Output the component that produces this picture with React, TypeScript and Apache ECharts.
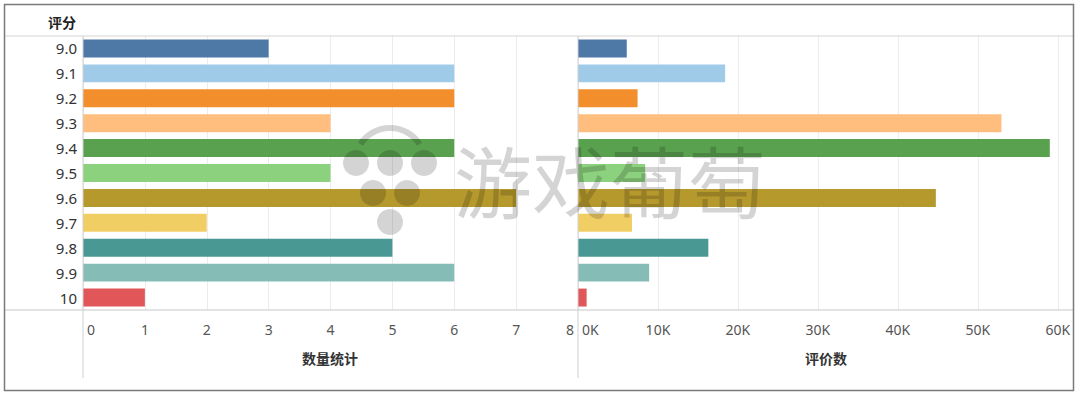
import React, { useEffect, useRef } from "react";
import * as echarts from "echarts";

const categories = ["9.0", "9.1", "9.2", "9.3", "9.4", "9.5", "9.6", "9.7", "9.8", "9.9", "10"];
const countValues = [3, 6, 6, 4, 6, 4, 7, 2, 5, 6, 1];
const reviewValues = [6100, 18400, 7450, 52950, 59000, 8400, 44750, 6750, 16300, 8900, 1080];
const colors = ["#4E79A7", "#A0CBE8", "#F28E2B", "#FFBE7D", "#59A14F", "#8CD17D", "#B6992D", "#F1CE63", "#499894", "#86BCB6", "#E15759"];
const leftTitle = "数量统计";
const rightTitle = "评价数";
const headerLabel = "评分";
const watermarkText = "游戏葡萄";

const FONT = "'Noto Sans', 'Noto Sans CJK SC', sans-serif";

export default function App() {
  const ref = useRef<HTMLDivElement>(null);
  useEffect(() => {
    document.body.style.margin = "0";
    if (!ref.current) return;
    const chart = echarts.init(ref.current, null, { renderer: "svg" });
    const wm = "rgba(0,0,0,0.17)";
    const dataFor = (vals: number[]) =>
      vals.map((v, i) => ({ value: v, itemStyle: { color: colors[i] } }));
    const axisLabelBase = { color: "#555", fontSize: 14, fontFamily: FONT, margin: 12, padding: [0, 4, 0, 4] };
    chart.setOption({
      animation: false,
      textStyle: { fontFamily: FONT },
      grid: [
        { left: 83, width: 495, top: 36, height: 274 },
        { left: 578, width: 495, top: 36, height: 274 },
      ],
      xAxis: [
        {
          gridIndex: 0, type: "value", min: 0, max: 8, interval: 1,
          axisLine: { show: false }, axisTick: { show: false },
          splitLine: { lineStyle: { color: "#ececec" } },
          axisLabel: { ...axisLabelBase, alignMinLabel: "left", alignMaxLabel: "right" },
        },
        {
          gridIndex: 1, type: "value", min: 0, max: 61900, interval: 10000,
          axisLine: { show: false }, axisTick: { show: false },
          splitLine: { lineStyle: { color: "#ececec" } },
          axisLabel: {
            ...axisLabelBase, alignMinLabel: "left", showMaxLabel: false,
            formatter: (v: number) => (v / 1000) + "K",
          },
        },
      ],
      yAxis: [
        {
          gridIndex: 0, type: "category", data: categories, inverse: true,
          axisLine: { show: false }, axisTick: { show: false }, splitLine: { show: false },
          axisLabel: { color: "#333", fontSize: 15, fontFamily: FONT, margin: 6 },
        },
        {
          gridIndex: 1, type: "category", data: categories, inverse: true,
          axisLine: { show: false }, axisTick: { show: false }, splitLine: { show: false },
          axisLabel: { show: false },
        },
      ],
      series: [
        { type: "bar", xAxisIndex: 0, yAxisIndex: 0, data: dataFor(countValues), barCategoryGap: "28%" },
        { type: "bar", xAxisIndex: 1, yAxisIndex: 1, data: dataFor(reviewValues), barCategoryGap: "28%" },
      ],
      graphic: [
        { type: "rect", shape: { x: 4.5, y: 4.5, width: 1069, height: 386 }, style: { fill: "none", stroke: "#7a7a7a", lineWidth: 1.5 }, z: 100 },
        { type: "line", shape: { x1: 5, y1: 36, x2: 1073, y2: 36 }, style: { stroke: "#d4d4d4", lineWidth: 1 }, z: 50 },
        { type: "line", shape: { x1: 5, y1: 310, x2: 1073, y2: 310 }, style: { stroke: "#c8c8c8", lineWidth: 1 }, z: 50 },
        { type: "line", shape: { x1: 83, y1: 36, x2: 83, y2: 378 }, style: { stroke: "#d0d0d0", lineWidth: 1 }, z: 50 },
        { type: "line", shape: { x1: 578, y1: 36, x2: 578, y2: 378 }, style: { stroke: "#d0d0d0", lineWidth: 1 }, z: 50 },
        { type: "text", x: 62, y: 22, style: { text: headerLabel, fill: "#222", font: "bold 14px " + FONT, textAlign: "center", textVerticalAlign: "middle" }, z: 60 },
        { type: "text", x: 330, y: 358, style: { text: leftTitle, fill: "#333", font: "bold 14px " + FONT, textAlign: "center", textVerticalAlign: "middle" }, z: 60 },
        { type: "text", x: 826, y: 358, style: { text: rightTitle, fill: "#333", font: "bold 14px " + FONT, textAlign: "center", textVerticalAlign: "middle" }, z: 60 },
        // watermark
        { type: "arc", shape: { cx: 390, cy: 163, r: 35, startAngle: Math.PI * 1.18, endAngle: Math.PI * 1.82, clockwise: true }, style: { stroke: wm, lineWidth: 6, fill: "none" }, z: 80 },
        { type: "circle", shape: { cx: 356, cy: 163, r: 13 }, style: { fill: wm }, z: 80 },
        { type: "circle", shape: { cx: 390, cy: 163, r: 13 }, style: { fill: wm }, z: 80 },
        { type: "circle", shape: { cx: 424, cy: 163, r: 13 }, style: { fill: wm }, z: 80 },
        { type: "circle", shape: { cx: 373, cy: 193, r: 13 }, style: { fill: wm }, z: 80 },
        { type: "circle", shape: { cx: 407, cy: 193, r: 13 }, style: { fill: wm }, z: 80 },
        { type: "circle", shape: { cx: 390, cy: 222, r: 13 }, style: { fill: wm }, z: 80 },
        { type: "text", x: 610, y: 179, style: { text: watermarkText, fill: wm, font: "normal 78px 'Noto Sans CJK SC', sans-serif", textAlign: "center", textVerticalAlign: "middle" }, z: 80 },
      ],
    });
    return () => chart.dispose();
  }, []);
  return <div ref={ref} style={{ width: 1080, height: 397 }} />;
}
